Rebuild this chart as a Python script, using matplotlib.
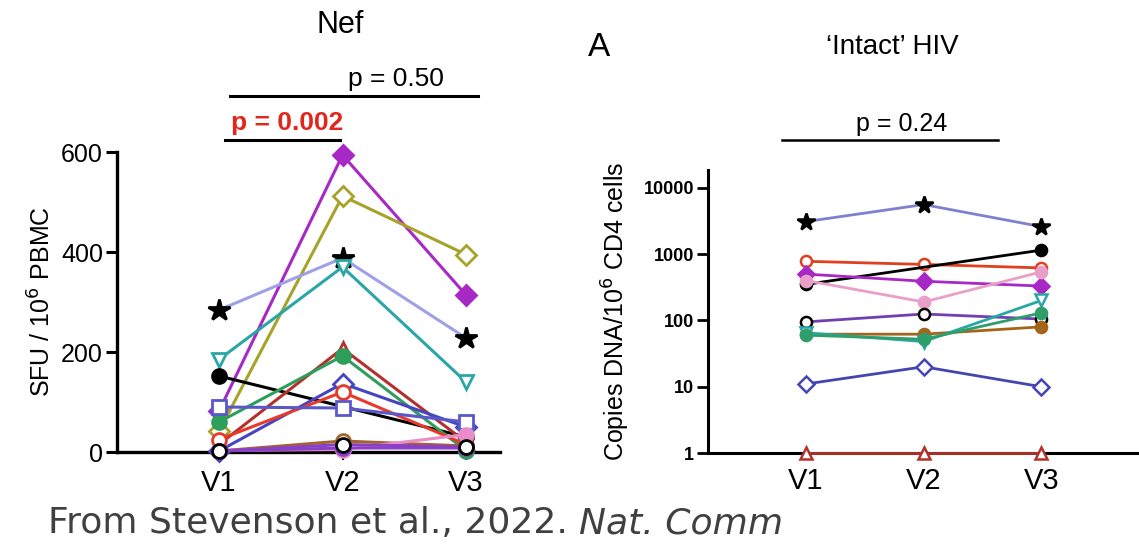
import matplotlib
matplotlib.use("Agg")
import matplotlib.pyplot as plt
import numpy as np
from matplotlib.lines import Line2D

plt.rcParams['font.family'] = ['Liberation Sans', 'DejaVu Sans']

visits = ['V1', 'V2', 'V3']

# Nef ELISpot, SFU / 10^6 PBMC (V1, V2, V3), nan = not shown
nef_vals = [
    [82, 594, 314],
    [42, 512, 395],
    [284, 388, 228],
    [185, 370, 140],
    [152, np.nan, 30],
    [15, 207, 20],
    [60, 192, 3],
    [2, 137, 50],
    [25, 120, 15],
    [90, 88, 60],
    [2, 22, 12],
    [3, 5, 35],
    [2, 8, 8],
    [2, 15, 10],
]

# intact HIV DNA copies / 10^6 CD4 cells
intact_vals = [
    [3100, 5600, 2600],
    [780, 700, 620],
    [350, np.nan, 1150],
    [500, 390, 330],
    [400, 190, 540],
    [95, 125, 105],
    [62, 62, 80],
    [65, 48, 200],
    [60, 52, 130],
    [11, 20, 10],
    [1, 1, 1],
]

nef_p = ['p = 0.50', 'p = 0.002']
intact_p = 'p = 0.24'

# style per participant: (line colour, marker, marker edge, marker face)
nef_style = [
    ('#A828C6', 'D', '#A828C6', '#A828C6'),
    ('#A6A22A', 'D', '#A6A22A', 'white'),
    ('#A0A0E8', '*', 'black', 'black'),
    ('#2AA6A6', 'v', '#2AA6A6', 'white'),
    ('black', 'o', 'black', 'black'),
    ('#B3312C', '^', '#B3312C', 'white'),
    ('#2E9E5B', 'o', '#2E9E5B', '#2E9E5B'),
    ('#4545C0', 'D', '#4545C0', 'white'),
    ('#E8392A', 'o', '#E8392A', 'white'),
    ('#5858CC', 's', '#5858CC', 'white'),
    ('#A4652A', 'o', '#A4652A', 'white'),
    ('#E98CC8', 'o', '#E98CC8', '#E98CC8'),
    ('#8A3FC8', 'o', '#8A3FC8', '#8A3FC8'),
    ('#8A3FC8', 'o', 'black', 'white'),
]
intact_style = [
    ('#8080D0', '*', 'black', 'black'),
    ('#E0401E', 'o', '#E0401E', 'white'),
    ('black', 'o', 'black', 'black'),
    ('#A828C6', 'D', '#A828C6', '#A828C6'),
    ('#E8A0C8', 'o', '#E8A0C8', '#E8A0C8'),
    ('#7040B0', 'o', 'black', 'white'),
    ('#A4651A', 'o', '#A4651A', '#A4651A'),
    ('#2AA6A6', 'v', '#2AA6A6', 'white'),
    ('#2E9E6B', 'o', '#2E9E6B', '#2E9E6B'),
    ('#4545B0', 'D', '#4545B0', 'white'),
    ('#B3312C', '^', '#B3312C', 'white'),
]

W, H = 1139, 544
fig = plt.figure(figsize=(W / 100, H / 100), dpi=100)
fig.patch.set_facecolor('white')


def px(x, y):
    return x / W, 1 - y / H


x = np.arange(1, 4)

# ---- left panel: Nef
ax1 = fig.add_axes([117 / W, 1 - 452 / H, 383 / W, 300 / H])
for vals, (lc, mk, ec, fc) in zip(nef_vals, nef_style):
    y = np.array(vals, dtype=float)
    m = ~np.isnan(y)
    ms = 16 if mk == '*' else 10
    ax1.plot(x[m], y[m], color=lc, lw=2.2, marker=mk, ms=ms, mec=ec, mfc=fc,
             mew=2.0, clip_on=False, zorder=3)
ax1.set_xlim(0.174, 3.275)
ax1.set_ylim(0, 600)
ax1.set_yticks([0, 200, 400, 600])
ax1.set_xticks(x)
ax1.set_xticklabels(visits, fontsize=21)
ax1.tick_params(axis='y', labelsize=18, length=8, width=2.2, pad=2)
ax1.tick_params(axis='x', length=6, width=1.5, pad=6)
ax1.spines['top'].set_visible(False)
ax1.spines['right'].set_visible(False)
for s in ['left', 'bottom']:
    ax1.spines[s].set_linewidth(2.4)
ax1.set_ylabel('SFU / 10$^{6}$ PBMC', fontsize=18, labelpad=4)

# ---- right panel: intact HIV
ax2 = fig.add_axes([708 / W, 1 - 453 / H, 431 / W, 283 / H])
for vals, (lc, mk, ec, fc) in zip(intact_vals, intact_style):
    y = np.array(vals, dtype=float)
    m = ~np.isnan(y)
    ms = 13 if mk == '*' else 8
    ax2.plot(x[m], y[m], color=lc, lw=2.0, marker=mk, ms=ms, mec=ec, mfc=fc,
             mew=1.8, clip_on=False, zorder=3)
ax2.set_yscale('log')
ax2.set_xlim(0.166, 3.83)
ax2.set_ylim(1, 18600)
ax2.set_yticks([1, 10, 100, 1000, 10000])
ax2.set_yticklabels(['1', '10', '100', '1000', '10000'], fontweight='bold')
ax2.minorticks_off()
ax2.set_xticks(x)
ax2.set_xticklabels(visits, fontsize=21)
ax2.tick_params(axis='y', labelsize=13, length=8, width=2, pad=2)
ax2.tick_params(axis='x', length=0, pad=10)
ax2.spines['top'].set_visible(False)
ax2.spines['right'].set_visible(False)
for s in ['left', 'bottom']:
    ax2.spines[s].set_linewidth(2.2)
ax2.set_ylabel('Copies DNA/10$^{6}$ CD4 cells', fontsize=18, labelpad=8)

# ---- titles and p-value brackets
fig.text(*px(340, 25), 'Nef', fontsize=22, ha='center', va='center')
fig.text(*px(396, 86), nef_p[0], fontsize=19, ha='center', va='baseline')
fig.lines.append(Line2D([230 / W, 478 / W], [1 - 96 / H] * 2, color='black',
                        lw=2.2, transform=fig.transFigure))
fig.text(*px(287, 130), nef_p[1], fontsize=19, ha='center', va='baseline',
         color='#E2261C', fontweight='bold')
fig.lines.append(Line2D([225 / W, 340 / W], [1 - 140 / H] * 2, color='black',
                        lw=2.2, transform=fig.transFigure))

fig.text(*px(599, 47), 'A', fontsize=24, ha='center', va='center')
fig.text(*px(892, 47), '\u2018Intact\u2019 HIV', fontsize=20, ha='center',
         va='center')
fig.text(*px(902, 131), intact_p, fontsize=18, ha='center', va='baseline')
fig.lines.append(Line2D([782 / W, 998 / W], [1 - 140 / H] * 2, color='black',
                        lw=1.8, transform=fig.transFigure))

# ---- source line
t1 = fig.text(*px(48, 533), 'From Stevenson et al., 2022. ', fontsize=26,
              family='DejaVu Sans', color='#404040', va='baseline')
fig.canvas.draw()
bb = t1.get_window_extent()
fig.text(bb.x1 / W, 1 - 533 / H, 'Nat. Comm', fontsize=26, style='italic',
         family='DejaVu Sans', color='#404040', va='baseline')

fig.savefig('out.png', dpi=100)
